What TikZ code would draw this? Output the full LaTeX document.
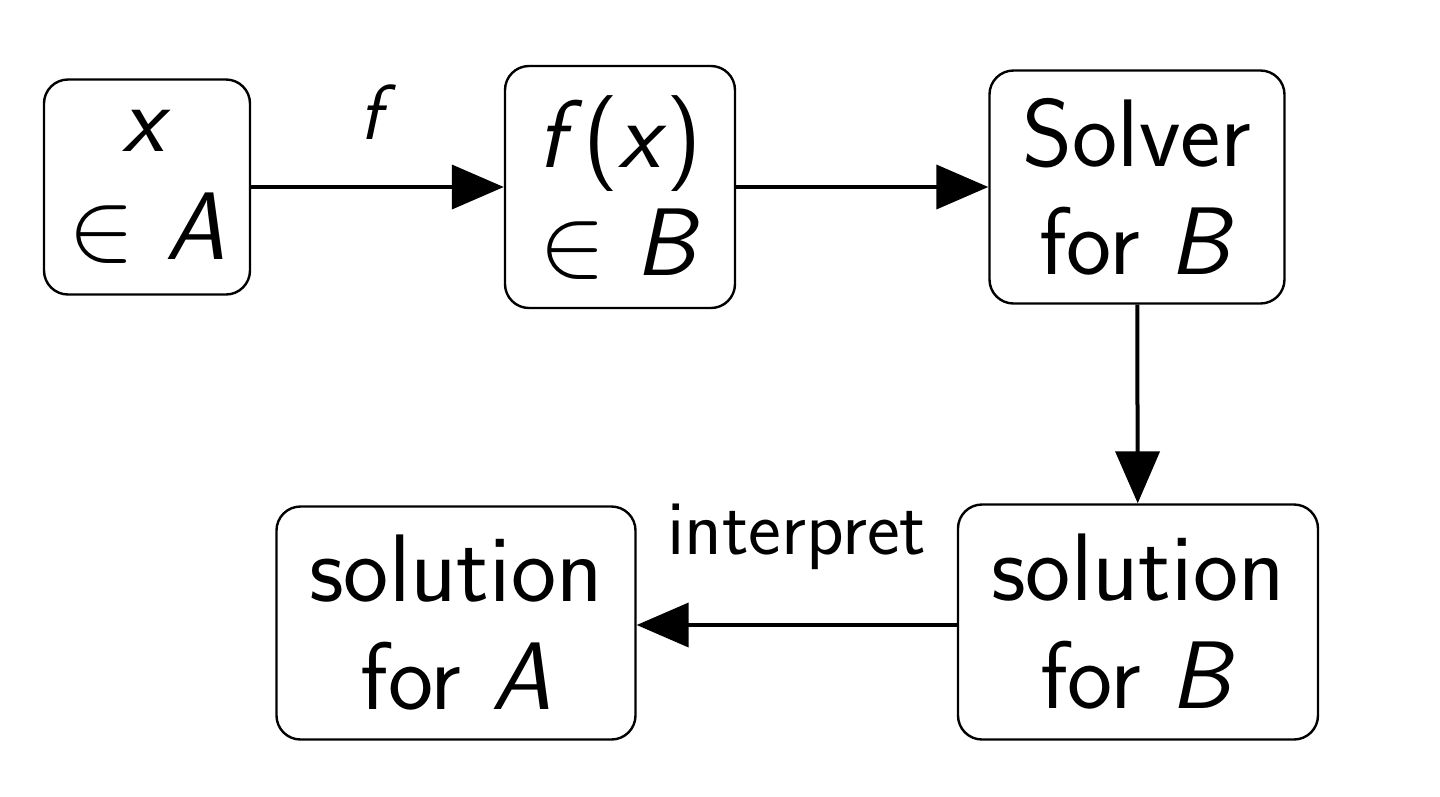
\documentclass[tikz,border=0pt]{standalone}
\usetikzlibrary{arrows.meta}
\begin{document}
\begin{tikzpicture}[x=0.25pt,y=-0.25pt,
  box/.style={draw,line width=0.6pt,rounded corners=6pt,align=center,inner sep=0pt,
    font=\sffamily\fontsize{24}{27}\selectfont},
  arr/.style={line width=1pt,-{Triangle[length=13pt,width=11pt]}},
  lab/.style={font=\sffamily\fontsize{19.5}{22}\selectfont}]
\useasboundingbox (0,0) rectangle (1440,796);
\node[box,minimum width=206*0.25pt,minimum height=215*0.25pt] (a) at (147,187) {\textit{x}\\$\in$ \textit{A}};
\node[box,minimum width=230*0.25pt,minimum height=242*0.25pt] (b) at (620,187) {\textit{f}(\textit{x})\\$\in$ \textit{B}};
\node[box,minimum width=295*0.25pt,minimum height=233*0.25pt] (c) at (1137,187) {Solver\\for \textit{B}};
\node[box,minimum width=360*0.25pt,minimum height=235*0.25pt] (d) at (1138,622) {solution\\for \textit{B}};
\node[box,minimum width=359*0.25pt,minimum height=233*0.25pt] (e) at (456,623) {solution\\for \textit{A}};
\draw[arr] (a) -- (b) node[midway,above=8pt,lab]{\textit{f}};
\draw[arr] (b) -- (c);
\draw[arr] (c) -- (d);
\draw[arr] (d.west |- 0,625) -- (e.east |- 0,625) node[midway,above=10pt,lab]{interpret};
\end{tikzpicture}
\end{document}
